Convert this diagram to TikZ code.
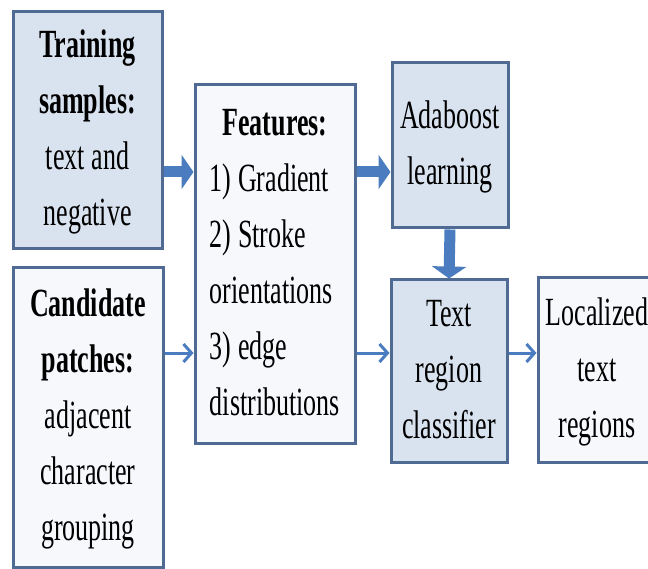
\documentclass[tikz,border=0pt]{standalone}
\usepackage{fontspec}
\usepackage{graphicx}
\setmainfont{Liberation Serif}
\usetikzlibrary{arrows.meta}

\definecolor{boxedge}{HTML}{4F6B94}
\definecolor{boxblue}{HTML}{D9E3F0}
\definecolor{boxpale}{HTML}{F6F8FC}
\definecolor{arrowblue}{HTML}{4A7CBF}

% narrow, tall type set as a centred or left-aligned block
\newcommand{\narrowc}[1]{\scalebox{0.65}[1]{\begin{tabular}{@{}c@{}}#1\end{tabular}}}
\newcommand{\narrowl}[1]{\scalebox{0.65}[1]{\begin{tabular}{@{}l@{}}#1\end{tabular}}}

\tikzset{
  box/.style={draw=boxedge, line width=3pt, inner sep=0pt, align=center,
    font=\fontsize{40}{56}\selectfont},
  bluebox/.style={box, fill=boxblue},
  palebox/.style={box, fill=boxpale},
  bigarrow/.style={draw=arrowblue, line width=11pt,
    -{Triangle[length=12pt,width=34pt]}},
  thinarrow/.style={draw=arrowblue, line width=3pt,
    -{Straight Barb[length=8pt,width=18pt,line width=3pt]}}
}

\begin{document}
\begin{tikzpicture}[x=1pt,y=-1pt]
  \useasboundingbox (0,0) rectangle (648,569);
  \clip (0,0) rectangle (648,569);

  % processing boxes
  \node[bluebox, minimum width=149pt, minimum height=237pt] (train) at (87.5,130)
    {\narrowc{\textbf{Training}\\ \textbf{samples:}\\ text and\\ negative}};
  \node[palebox, minimum width=150pt, minimum height=299pt] (cand) at (88,417.5)
    {\narrowc{\textbf{Candidate}\\ \textbf{patches:}\\ adjacent\\ character\\ grouping}};
  \node[palebox, minimum width=160pt, minimum height=358pt] (feat) at (275,264)
    {\narrowl{\multicolumn{1}{@{}c@{}}{\textbf{Features:}}\\ 1) Gradient\\ 2) Stroke\\ orientations\\ 3) edge\\ distributions}};
  \node[bluebox, minimum width=116pt, minimum height=165pt] (ada) at (450,145.5)
    {\narrowc{Adaboost\\ learning}};
  \node[bluebox, minimum width=116pt, minimum height=182pt] (cls) at (449,371)
    {\narrowc{Text\\ region\\ classifier}};
  \node[palebox, minimum width=118pt, minimum height=184pt] (loc) at (597,370)
    {\narrowc{Localized\\ text\\ regions}};

  % training path
  \draw[bigarrow] (train.east |- 0,172) -- (feat.west |- 0,172);
  \draw[bigarrow] (feat.east |- 0,172) -- (ada.west |- 0,172);
  \draw[bigarrow] (ada.south) -- (cls.north);

  % detection path
  \draw[thinarrow] (cand.east |- 0,353) -- (feat.west |- 0,353);
  \draw[thinarrow] (feat.east |- 0,353) -- (cls.west |- 0,353);
  \draw[thinarrow] (cls.east |- 0,353) -- (loc.west |- 0,353);
\end{tikzpicture}
\end{document}
